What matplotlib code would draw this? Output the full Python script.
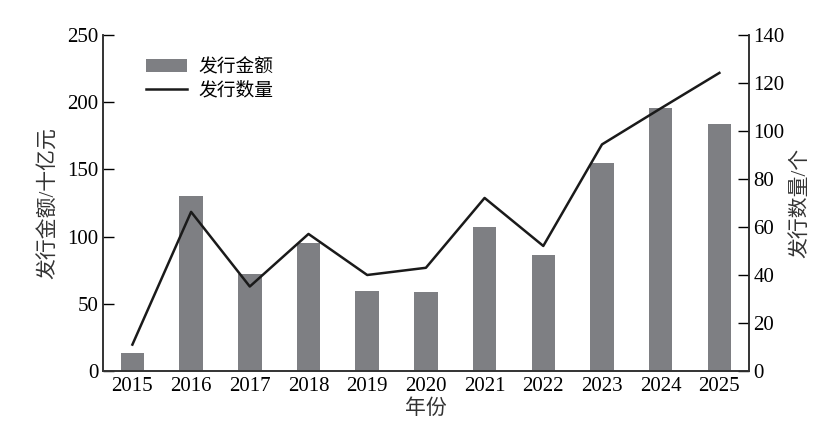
import matplotlib
matplotlib.use("Agg")
import matplotlib.pyplot as plt
from matplotlib.ticker import MultipleLocator

plt.rcParams['font.family'] = ['Liberation Serif', 'Noto Sans CJK SC']

years = ['2015', '2016', '2017', '2018', '2019', '2020',
         '2021', '2022', '2023', '2024', '2025']
amount = [13.4, 130.4, 71.8, 95, 59.7, 58.7, 107.2, 86.1, 154.5, 196, 183.7]
count = [11, 66.3, 35.2, 57.1, 40, 43, 72.1, 52.1, 94.4, 109.4, 124.2]

fig = plt.figure(figsize=(8.31, 4.37), dpi=100)
ax = fig.add_axes([0.124, 0.151, 0.777, 0.769])
x = list(range(len(years)))

bars = ax.bar(x, amount, width=0.4, color='#7e7f83', label='发行金额', zorder=1)
ax.set_xlim(-0.5, 10.5)
ax.set_ylim(0, 250)
ax.yaxis.set_major_locator(MultipleLocator(50))
ax.set_xticks(x)
ax.set_xticklabels(years)
ax.tick_params(axis='x', length=0, labelsize=15, pad=4)
ax.tick_params(axis='y', direction='in', length=8, labelsize=15, width=1)
ax.spines['top'].set_visible(False)
ax.set_ylabel('发行金额/十亿元', fontsize=15, color='#333333', labelpad=6)
ax.set_xlabel('年份', fontsize=15, color='#333333', labelpad=3)

ax2 = ax.twinx()
line, = ax2.plot(x, count, color='#1a1a1a', lw=1.8, label='发行数量', zorder=3)
ax2.set_ylim(0, 140)
ax2.yaxis.set_major_locator(MultipleLocator(20))
ax2.tick_params(axis='y', direction='in', length=8, labelsize=15, width=1)
ax2.spines['top'].set_visible(False)
ax2.set_ylabel('发行数量/个', fontsize=15, color='#333333')

for a in (ax, ax2):
    for s in a.spines.values():
        s.set_color('#333333')
        s.set_linewidth(1.2)

ax.legend([bars, line], ['发行金额', '发行数量'], loc='upper left',
          bbox_to_anchor=(0.04, 0.98), frameon=False, fontsize=13.5,
          handlelength=2.2, handletextpad=0.6, labelspacing=0.3)

fig.savefig('out.png', dpi=100)
